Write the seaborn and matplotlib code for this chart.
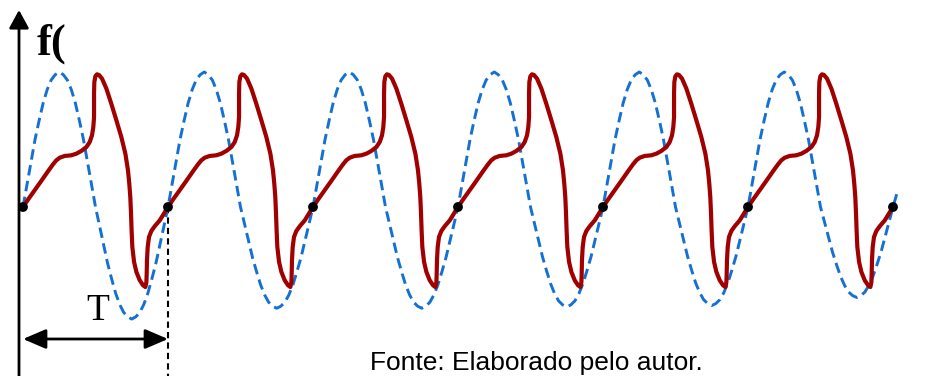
import matplotlib
matplotlib.use("Agg")
import numpy as np
import pandas as pd
import matplotlib.pyplot as plt
import seaborn as sns

# ---------------- data (x in periods, y in amplitude units) ----------------
periods = [0, 1, 2, 3, 4, 5]
node_t = [0, 1, 2, 3, 4, 5, 6]

# one period of the distorted (red) waveform
red_phase = [0.000, 0.034, 0.080, 0.126, 0.172, 0.207, 0.230, 0.253, 0.287, 0.333,
             0.368, 0.402, 0.437, 0.460, 0.476, 0.485, 0.490, 0.490, 0.490, 0.492,
             0.499, 0.510, 0.524, 0.545, 0.575, 0.609, 0.644, 0.678, 0.706, 0.724,
             0.733, 0.740, 0.745, 0.749, 0.754, 0.766, 0.782, 0.805, 0.828, 0.844,
             0.851, 0.853, 0.855, 0.860, 0.869, 0.885, 0.908, 0.943, 0.972, 1.000]
red_value = [0.000, 0.054, 0.123, 0.193, 0.264, 0.316, 0.346, 0.365, 0.378, 0.383,
             0.395, 0.415, 0.444, 0.481, 0.531, 0.593, 0.667, 0.741, 0.840, 0.926,
             0.968, 0.983, 0.978, 0.951, 0.877, 0.765, 0.642, 0.519, 0.395, 0.272,
             0.173, 0.074, -0.049, -0.173, -0.296, -0.407, -0.481, -0.543, -0.580, -0.593,
             -0.556, -0.494, -0.395, -0.296, -0.222, -0.178, -0.143, -0.099, -0.049, 0.000]

# one period of the reference (blue dashed) sinusoid shape
blue_phase = [0.000, 0.028, 0.056, 0.083, 0.111, 0.139, 0.167, 0.194, 0.222, 0.250,
              0.278, 0.306, 0.333, 0.361, 0.389, 0.417, 0.444, 0.472, 0.500, 0.528,
              0.556, 0.583, 0.611, 0.639, 0.667, 0.694, 0.722, 0.750, 0.778, 0.806,
              0.833, 0.861, 0.889, 0.917, 0.944, 0.972]
blue_shape = [0.00, 0.17, 0.34, 0.50, 0.64, 0.77, 0.87, 0.94, 0.98, 1.00,
              0.98, 0.94, 0.87, 0.77, 0.64, 0.50, 0.34, 0.17, 0.00, -0.17,
              -0.34, -0.50, -0.64, -0.77, -0.87, -0.94, -0.98, -1.00, -0.98, -0.94,
              -0.87, -0.77, -0.64, -0.50, -0.34, -0.17]
blue_peak = [1.00, 1.00, 1.00, 1.00, 1.00, 1.00]
blue_trough = [0.83, 0.75, 0.75, 0.74, 0.73, 0.67]
blue_tail_t = [6.000, 6.035]
blue_tail_v = [0.00, 0.13]

# ---------------- build tables ----------------
red_t, red_v = [], []
for k in periods:
    for i, (p, v) in enumerate(zip(red_phase, red_value)):
        if k > 0 and i == 0:
            continue
        red_t.append(k + p)
        red_v.append(v)
red_df = pd.DataFrame({"t": red_t, "v": red_v})

blue_t, blue_v = [], []
for k in periods:
    for p, s in zip(blue_phase, blue_shape):
        blue_t.append(k + p)
        blue_v.append(s * (blue_peak[k] if s >= 0 else blue_trough[k]))
blue_t += blue_tail_t
blue_v += blue_tail_v
blue_df = pd.DataFrame({"t": blue_t, "v": blue_v})

node_df = pd.DataFrame({"t": node_t, "v": [0.0] * len(node_t)})

# ---------------- layout helpers (pixel -> data) ----------------
X0, PXT = 23.0, 145.0
Y0, PXY = 207.0, 135.0
def tx(px):
    return (px - X0) / PXT
def ty(py):
    return (Y0 - py) / PXY

sns.set_style("white")
fig = plt.figure(figsize=(9.42, 3.76), dpi=100)
ax = fig.add_axes([0, 0, 1, 1])

BLUE = "#1470D2"
RED = "#A00000"

# axes arrows
ax.annotate("", xy=(tx(19), ty(10)), xytext=(tx(19), ty(378)),
            arrowprops=dict(arrowstyle="-|>,head_length=0.55,head_width=0.3",
                            lw=2, color="black", mutation_scale=20,
                            shrinkA=0, shrinkB=0), zorder=1)
ax.annotate("", xy=(tx(946), ty(207)), xytext=(tx(19), ty(207)),
            arrowprops=dict(arrowstyle="-|>,head_length=0.55,head_width=0.3",
                            lw=2, color="black", mutation_scale=20,
                            shrinkA=0, shrinkB=0), zorder=1)

# dashed vertical marker at one period
ax.plot([1, 1], [0, ty(378)], color="black", lw=1.5, ls=(0, (3, 2)), zorder=1)

# period arrow
ax.annotate("", xy=(1, ty(339)), xytext=(0, ty(339)),
            arrowprops=dict(arrowstyle="<|-|>,head_length=0.7,head_width=0.3",
                            lw=2, color="black", mutation_scale=20,
                            shrinkA=0, shrinkB=0))

# curves
sns.lineplot(data=blue_df, x="t", y="v", ax=ax, sort=False, estimator=None,
             color=BLUE, lw=2.1, zorder=2)
ax.lines[-1].set_linestyle((0, (3.6, 1.9)))
sns.lineplot(data=red_df, x="t", y="v", ax=ax, sort=False, estimator=None,
             color=RED, lw=3, zorder=3)
ax.lines[-1].set_solid_capstyle("round")
ax.lines[-1].set_solid_joinstyle("round")
sns.scatterplot(data=node_df, x="t", y="v", ax=ax, color="black", s=50,
                edgecolor="none", zorder=4)

ax.set_xlim(tx(0), tx(942))
ax.set_ylim(ty(376), ty(0))
ax.axis("off")

# texts
ax.text(tx(37), ty(55), "f(", fontfamily="Liberation Serif", fontweight="bold",
        fontsize=32, va="baseline", ha="left", color="black")
ax.text(tx(98), ty(320), "T", fontfamily="Liberation Serif", fontsize=27,
        va="baseline", ha="center", color="black")
ax.text(tx(370), ty(370), "Fonte: Elaborado pelo autor.", fontfamily="Liberation Sans",
        fontsize=19, va="baseline", ha="left", color="black")

fig.savefig("out.png", dpi=100)
